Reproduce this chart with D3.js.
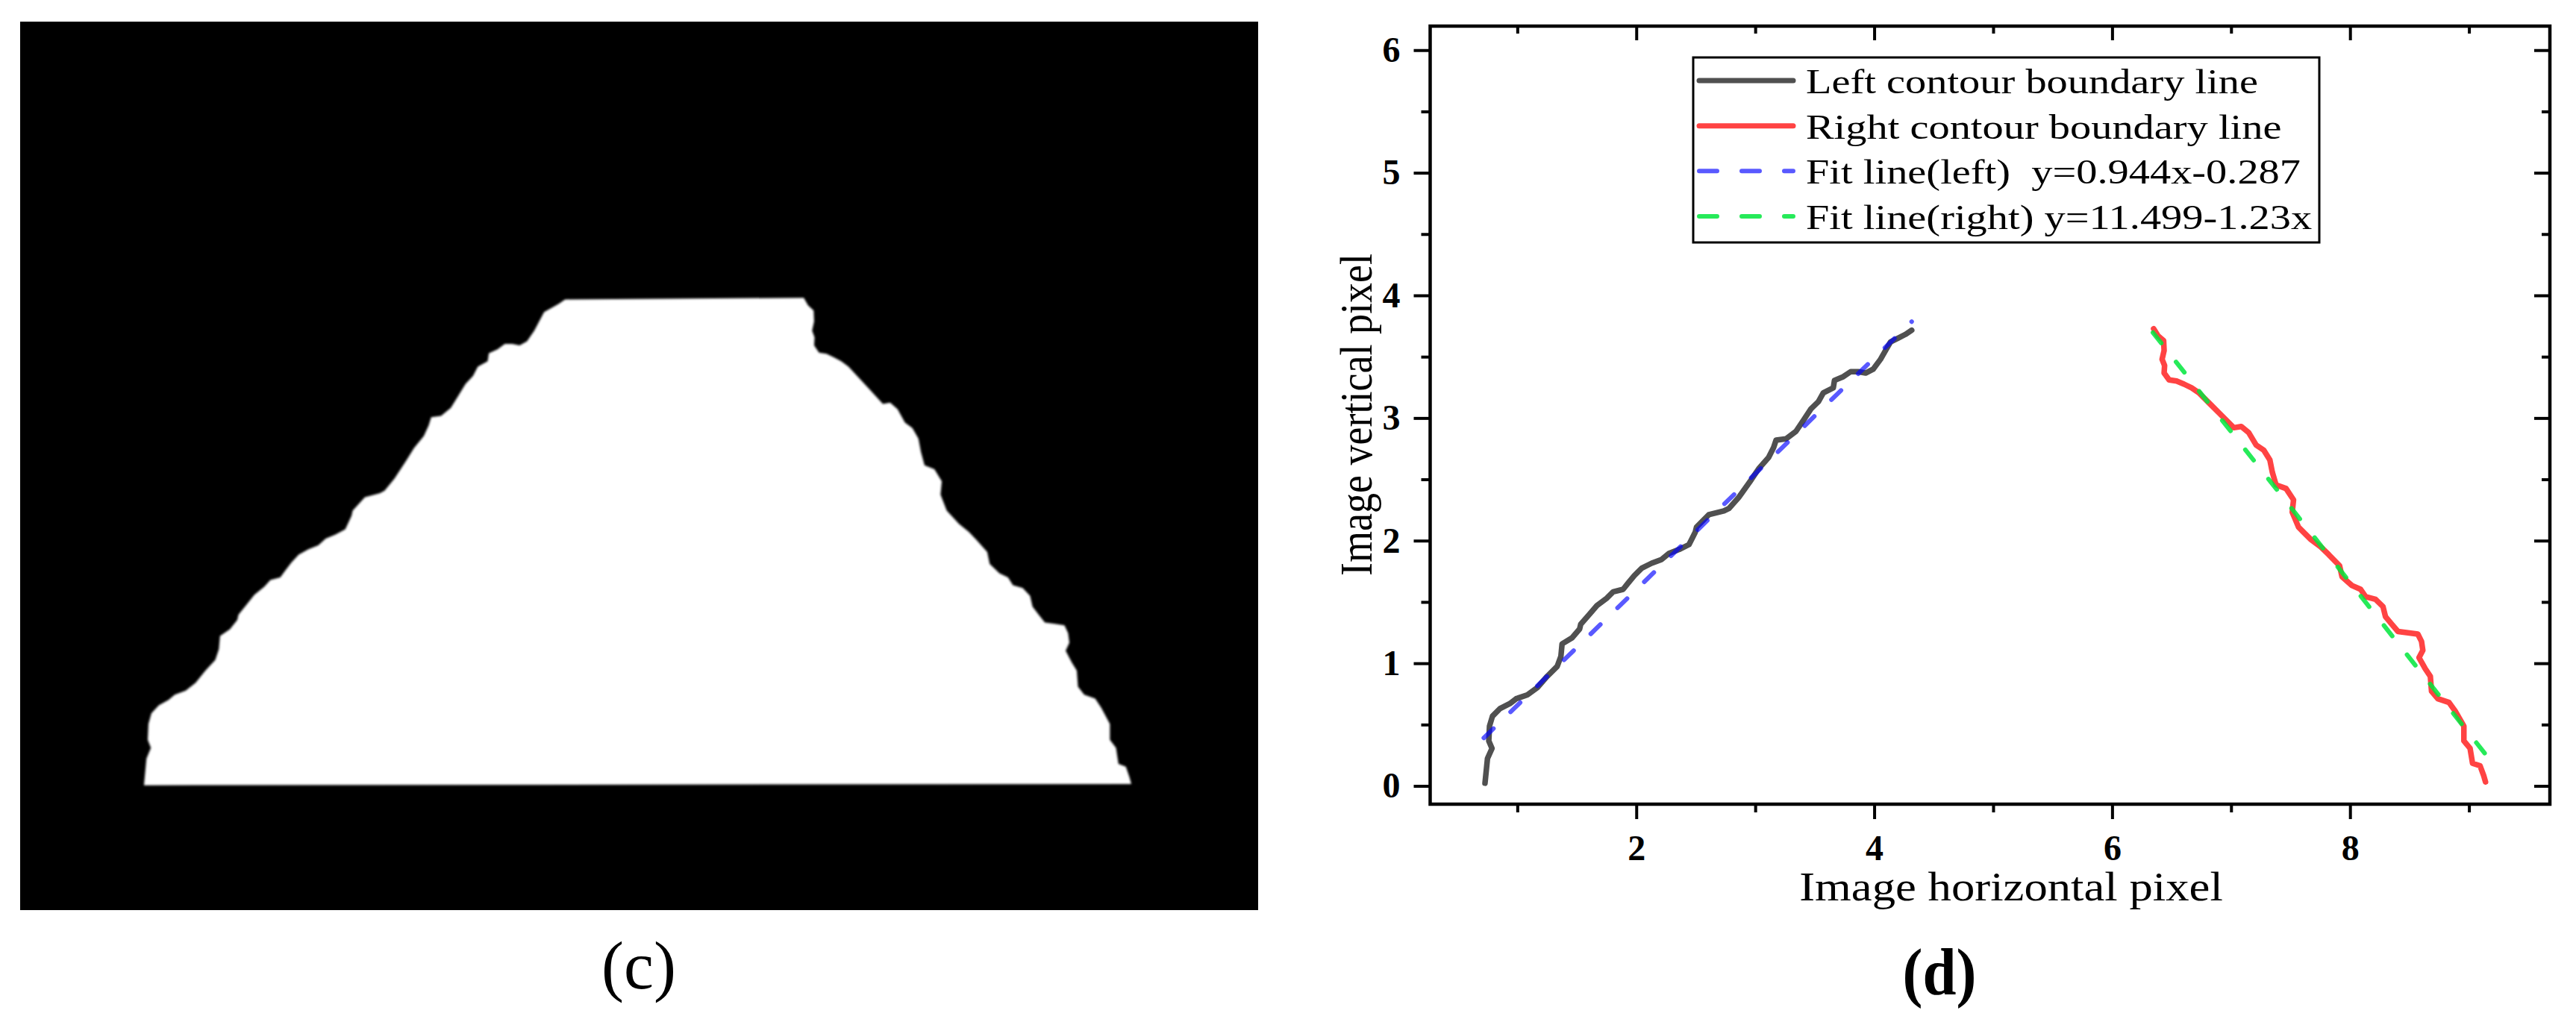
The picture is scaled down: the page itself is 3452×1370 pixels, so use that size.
<!DOCTYPE html>
<html>
<head>
<meta charset="utf-8">
<script src="https://cdn.jsdelivr.net/npm/d3@7"></script>
<style>
  body { margin: 0; background: #fff; }
  text { font-family: "Liberation Serif", "Times New Roman", serif; white-space: pre; }
</style>
</head>
<body>
<div id="chart"></div>
<script>
// contour points, [x, y] in image pixel units
const leftContour = [
  [0.728,0.022],[0.749,0.224],[0.787,0.306],[0.760,0.367],[0.766,0.488],[0.791,0.569],
  [0.854,0.630],[0.937,0.671],[0.990,0.711],[1.084,0.742],[1.168,0.802],[1.251,0.894],
  [1.335,0.975],[1.366,1.056],[1.376,1.158],[1.460,1.208],[1.523,1.279],[1.533,1.319],
  [1.607,1.401],[1.669,1.471],[1.753,1.532],[1.805,1.583],[1.889,1.603],[1.931,1.654],
  [1.983,1.715],[2.046,1.776],[2.129,1.816],[2.213,1.847],[2.276,1.897],[2.360,1.928],
  [2.443,1.968],[2.496,2.070],[2.506,2.110],[2.568,2.171],[2.610,2.212],[2.736,2.242],
  [2.778,2.262],[2.861,2.353],[2.966,2.496],[3.029,2.587],[3.112,2.678],[3.154,2.759],
  [3.175,2.820],[3.259,2.830],[3.342,2.891],[3.405,2.982],[3.468,3.074],[3.531,3.134],
  [3.572,3.205],[3.656,3.246],[3.666,3.307],[3.740,3.337],[3.802,3.378],[3.865,3.378],
  [3.928,3.367],[3.991,3.398],[4.053,3.479],[4.095,3.550],[4.137,3.621],[4.200,3.651],
  [4.262,3.682],[4.315,3.716]
];
const rightContour = [
  [6.349,3.728],[6.385,3.671],[6.433,3.631],[6.437,3.550],[6.420,3.479],[6.441,3.428],
  [6.437,3.367],[6.479,3.311],[6.542,3.302],[6.605,3.276],[6.668,3.246],[6.730,3.205],
  [6.814,3.124],[6.898,3.043],[6.981,2.962],[7.023,2.921],[7.085,2.931],[7.148,2.881],
  [7.211,2.779],[7.274,2.739],[7.326,2.658],[7.347,2.557],[7.378,2.455],[7.462,2.425],
  [7.525,2.333],[7.514,2.232],[7.567,2.110],[7.608,2.070],[7.671,2.009],[7.755,1.948],
  [7.820,1.887],[7.912,1.796],[7.933,1.705],[8.016,1.634],[8.089,1.603],[8.131,1.543],
  [8.214,1.522],[8.277,1.462],[8.298,1.380],[8.350,1.319],[8.403,1.259],[8.487,1.249],
  [8.570,1.238],[8.601,1.178],[8.612,1.106],[8.580,1.046],[8.633,0.954],[8.675,0.894],
  [8.685,0.772],[8.738,0.711],[8.832,0.681],[8.884,0.610],[8.957,0.488],[8.957,0.367],
  [9.009,0.306],[9.030,0.184],[9.093,0.164],[9.124,0.083],[9.139,0.032]
];
// fitted lines, end points
const fitLeft = [[0.718,0.391],[4.315,3.786]];
const fitRight = [[6.343,3.697],[9.146,0.249]];

const xTicks = [2, 4, 6, 8];
const xMinorTicks = [1, 3, 5, 7, 9];
const yTicks = [0, 1, 2, 3, 4, 5, 6];
const yMinorTicks = [0.5, 1.5, 2.5, 3.5, 4.5, 5.5];

const legendLabels = [
  "Left contour boundary line",
  "Right contour boundary line",
  "Fit line(left)  y=0.944x-0.287",
  "Fit line(right) y=11.499-1.23x"
];
const seriesColors = ["#505050", "#ff4343", "#0000ff", "#00e63c"];

const svg = d3.select("#chart").append("svg")
  .attr("width", 3452)
  .attr("height", 1370)
  .style("display", "block");

const line = (sx, sy) => d3.line().x((d) => sx(d[0])).y((d) => sy(d[1]));

// the source figure is stretched sideways a little; mimic it on the text
const stretched = (sel, x, y, sx) =>
  sel.attr("transform", `translate(${x},${y}) scale(${sx},1)`);

// ---- panel (c): binary image of the mask ----
const cx = d3.scaleLinear().domain([-0.327, 10.22]).range([27, 1686]);
const cy = d3.scaleLinear().domain([-0.927, 5.828]).range([1220, 29]);

svg.append("defs").append("filter").attr("id", "soft")
  .append("feGaussianBlur").attr("stdDeviation", 1.6);

svg.append("rect")
  .attr("x", cx.range()[0]).attr("y", cy.range()[1])
  .attr("width", cx.range()[1] - cx.range()[0])
  .attr("height", cy.range()[0] - cy.range()[1])
  .attr("fill", "#000");

svg.append("path")
  .attr("d", line(cx, cy)(leftContour.concat(rightContour)) + "Z")
  .attr("fill", "#fff")
  .attr("filter", "url(#soft)");

svg.append("text")
  .attr("x", 856).attr("y", 1325)
  .attr("text-anchor", "middle")
  .attr("font-size", 90)
  .text("(c)");

// ---- panel (d): contour lines ----
const x = d3.scaleLinear().domain([0.267, 9.68]).range([1916.5, 3417]);
const y = d3.scaleLinear().domain([-0.149, 6.196]).range([1078, 35]);

const g = svg.append("g");

function styleAxis(sel, w) {
  sel.select(".domain").remove();
  sel.selectAll(".tick line").attr("stroke", "#000").attr("stroke-width", w);
  sel.selectAll(".tick text")
    .attr("fill", "#000")
    .attr("font-family", "Liberation Serif, Times New Roman, serif")
    .attr("font-weight", "bold")
    .attr("font-size", 48);
}

// bottom (outward) and top (inward)
g.append("g").attr("transform", `translate(0,${y.range()[0]})`)
  .call(d3.axisBottom(x).tickValues(xTicks).tickSize(20).tickPadding(21).tickFormat(d3.format("d")))
  .call((s) => styleAxis(s, 4));
g.append("g").attr("transform", `translate(0,${y.range()[0]})`)
  .call(d3.axisBottom(x).tickValues(xMinorTicks).tickSize(11).tickFormat(""))
  .call((s) => styleAxis(s, 4));
g.append("g").attr("transform", `translate(0,${y.range()[1]})`)
  .call(d3.axisBottom(x).tickValues(xTicks).tickSize(19).tickFormat(""))
  .call((s) => styleAxis(s, 4));
g.append("g").attr("transform", `translate(0,${y.range()[1]})`)
  .call(d3.axisBottom(x).tickValues(xMinorTicks).tickSize(10).tickFormat(""))
  .call((s) => styleAxis(s, 4));

// left (outward) and right (inward)
g.append("g").attr("transform", `translate(${x.range()[0]},0)`)
  .call(d3.axisLeft(y).tickValues(yTicks).tickSize(22).tickPadding(18).tickFormat(d3.format("d")))
  .call((s) => styleAxis(s, 4));
g.append("g").attr("transform", `translate(${x.range()[0]},0)`)
  .call(d3.axisLeft(y).tickValues(yMinorTicks).tickSize(12).tickFormat(""))
  .call((s) => styleAxis(s, 4));
g.append("g").attr("transform", `translate(${x.range()[1]},0)`)
  .call(d3.axisLeft(y).tickValues(yTicks).tickSize(21).tickFormat(""))
  .call((s) => styleAxis(s, 4));
g.append("g").attr("transform", `translate(${x.range()[1]},0)`)
  .call(d3.axisLeft(y).tickValues(yMinorTicks).tickSize(11).tickFormat(""))
  .call((s) => styleAxis(s, 4));

// frame
g.append("rect")
  .attr("x", x.range()[0]).attr("y", y.range()[1])
  .attr("width", x.range()[1] - x.range()[0])
  .attr("height", y.range()[0] - y.range()[1])
  .attr("fill", "none").attr("stroke", "#000").attr("stroke-width", 4.5);

// series
const series = [
  { data: leftContour, color: seriesColors[0], width: 7.5, dash: null, op: 1 },
  { data: fitLeft, color: seriesColors[2], width: 6, dash: "18,32", op: 0.65 },
  { data: rightContour, color: seriesColors[1], width: 7.5, dash: null, op: 1 },
  { data: fitRight, color: seriesColors[3], width: 6, dash: "18,32", op: 0.85 }
];
series.forEach((s) => {
  g.append("path")
    .attr("d", line(x, y)(s.data))
    .attr("fill", "none")
    .attr("stroke", s.color)
    .attr("stroke-width", s.width)
    .attr("stroke-opacity", s.op)
    .attr("stroke-linecap", "round")
    .attr("stroke-linejoin", "round")
    .attr("stroke-dasharray", s.dash);
});

// axis titles
g.append("text")
  .call(stretched, 2695, 1207, 1.12)
  .attr("text-anchor", "middle")
  .attr("font-size", 56)
  .text("Image horizontal pixel");
g.append("text")
  .attr("transform", "translate(1838,556) scale(1.15,1) rotate(-90)")
  .attr("text-anchor", "middle")
  .attr("font-size", 54)
  .text("Image vertical pixel");

// legend
const legend = g.append("g");
legend.append("rect")
  .attr("x", 2269).attr("y", 77).attr("width", 839).attr("height", 248)
  .attr("fill", "#fff").attr("stroke", "#000").attr("stroke-width", 3);

const legendOrder = [0, 1, 2, 3];
const legendDash = [null, null, "24,33", "24,33"];
const legendOp = [1, 1, 0.65, 0.85];
const legendColors = [seriesColors[0], seriesColors[1], seriesColors[2], seriesColors[3]];
const rowY = d3.scalePoint().domain(legendOrder).range([108, 290]);

legendOrder.forEach((i) => {
  legend.append("line")
    .attr("x1", 2277).attr("x2", 2403)
    .attr("y1", rowY(i)).attr("y2", rowY(i))
    .attr("stroke", legendColors[i])
    .attr("stroke-opacity", legendOp[i])
    .attr("stroke-width", i < 2 ? 7 : 6)
    .attr("stroke-linecap", "round")
    .attr("stroke-dasharray", legendDash[i]);
  legend.append("text")
    .call(stretched, 2420, rowY(i) + 17, 1.2)
    .attr("font-size", 47)
    .text(legendLabels[i]);
});

svg.append("text")
  .call(stretched, 2599, 1333, 0.92)
  .attr("text-anchor", "middle")
  .attr("font-size", 88)
  .attr("font-weight", "bold")
  .text("(d)");
</script>
</body>
</html>
